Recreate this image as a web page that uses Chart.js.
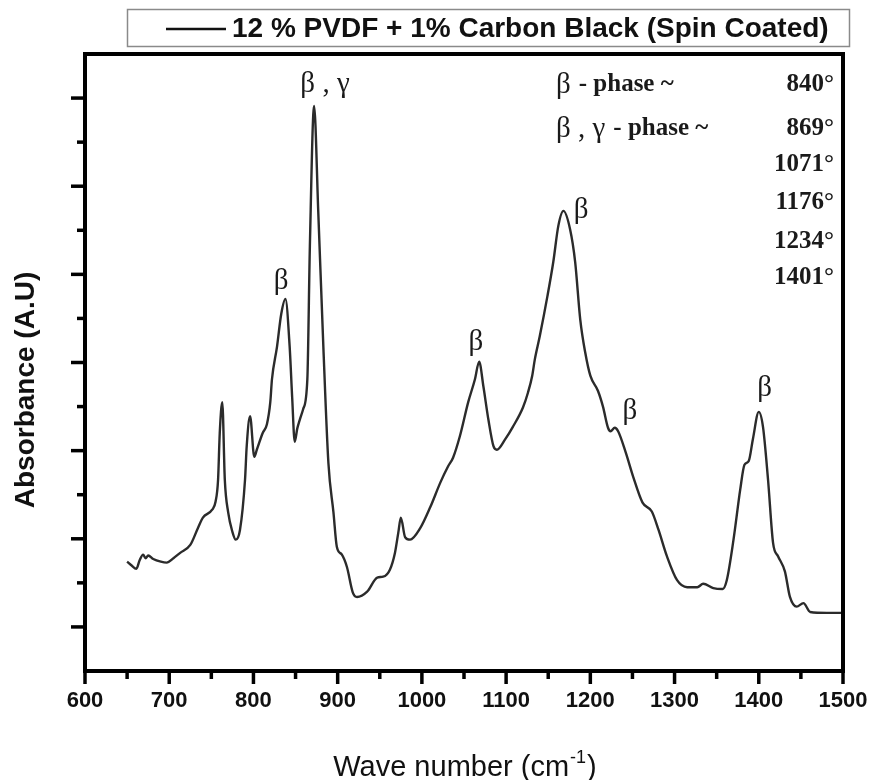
<!DOCTYPE html>
<html lang="en">
<head>
<meta charset="UTF-8">
<title>FTIR - 12 % PVDF + 1% Carbon Black</title>
<script src="https://cdn.jsdelivr.net/npm/chart.js"></script>
<style>
  html, body { margin: 0; padding: 0; background: #fff; }
  #wrap { width: 872px; height: 780px; }
</style>
</head>
<body>
<div id="wrap"><canvas id="spectrum" width="872" height="780"></canvas></div>
<script>
// spectrum (wave number in cm-1, absorbance in arbitrary units)
const waveNumber = [
  650, 655, 661, 665, 669, 672, 675, 681, 690, 697, 705, 713, 725, 734, 740, 751, 755, 758, 760, 763,
  766, 770, 775, 779, 784, 790, 792, 796, 801, 804, 811, 816, 820, 822, 828, 833, 838, 843, 846, 849,
  852, 855, 859, 864, 867, 872, 877, 883, 889, 895, 899, 905, 911, 918, 923, 935, 947, 954, 962, 968,
  972, 975, 980, 986, 998, 1010, 1022, 1031, 1037, 1045, 1055, 1063, 1068, 1073, 1079, 1085, 1089, 1099, 1108, 1120,
  1126, 1131, 1134, 1140, 1149, 1156, 1162, 1168, 1176, 1182, 1188, 1194, 1200, 1209, 1215, 1221, 1224, 1229, 1233, 1242,
  1251, 1262, 1273, 1281, 1291, 1303, 1315, 1327, 1334, 1346, 1357, 1362, 1370, 1378, 1383, 1388, 1393, 1400, 1405, 1411,
  1417, 1423, 1431, 1437, 1445, 1453, 1461, 1481, 1499
];
const absorbance = [
  0.74, 0.70, 0.66, 0.76, 0.82, 0.78, 0.81, 0.77, 0.74, 0.73, 0.78, 0.84, 0.93, 1.12, 1.24, 1.33, 1.42, 1.67, 2.20, 2.55,
  1.67, 1.30, 1.08, 0.99, 1.10, 1.67, 2.05, 2.39, 1.93, 2.01, 2.20, 2.30, 2.55, 2.81, 3.18, 3.55, 3.72, 3.18, 2.60, 2.10,
  2.25, 2.35, 2.47, 2.81, 4.32, 5.91, 4.70, 3.18, 1.86, 1.30, 0.91, 0.82, 0.68, 0.39, 0.34, 0.40, 0.56, 0.57, 0.65, 0.84,
  1.07, 1.24, 1.02, 0.99, 1.12, 1.36, 1.64, 1.82, 1.92, 2.16, 2.55, 2.81, 3.01, 2.73, 2.35, 2.05, 2.01, 2.13, 2.27, 2.49,
  2.66, 2.85, 3.03, 3.30, 3.75, 4.14, 4.55, 4.72, 4.51, 4.14, 3.49, 3.11, 2.85, 2.68, 2.50, 2.26, 2.22, 2.26, 2.22, 1.98,
  1.70, 1.41, 1.31, 1.10, 0.80, 0.53, 0.45, 0.45, 0.49, 0.44, 0.43, 0.53, 0.99, 1.56, 1.84, 1.88, 2.13, 2.44, 2.27, 1.67,
  0.95, 0.80, 0.63, 0.34, 0.23, 0.27, 0.17, 0.16, 0.16
];

const xTickLabels = [600, 700, 800, 900, 1000, 1100, 1200, 1300, 1400, 1500];
const seriesLabel = '12 % PVDF + 1% Carbon Black (Spin Coated)';

// peak markers on the curve
const peakText = ['β', 'β , γ', 'β', 'β', 'β', 'β'];
const peakAtX  = [833, 885, 1064, 1189, 1247, 1407];
const peakAtY  = [3.92, 6.16, 3.23, 4.73, 2.45, 2.71];

// phase table in the upper right corner
const phaseNames = ['β', 'β , γ', '', '', '', ''];
const phasePeaks = ['840°', '869°', '1071°', '1176°', '1234°', '1401°'];

const points = waveNumber.map((w, i) => ({ x: w, y: absorbance[i] }));

const sans = '"Liberation Sans", Arial, sans-serif';
const serif = '"Liberation Serif", "Times New Roman", serif';

// рамка, засечки, подписи осей, легенда и пометки пиков
const decorPlugin = {
  id: 'decor',
  afterDraw(chart) {
    const ctx = chart.ctx;
    const area = chart.chartArea;
    const xs = chart.scales.x;
    const ys = chart.scales.y;
    ctx.save();

    // frame
    ctx.strokeStyle = '#000';
    ctx.lineWidth = 4;
    ctx.strokeRect(area.left, area.top, area.right - area.left, area.bottom - area.top);

    // x ticks (every 50, long ones at labelled values)
    ctx.lineWidth = 3.5;
    xs.ticks.forEach(t => {
      const px = xs.getPixelForValue(t.value);
      const len = xTickLabels.includes(t.value) ? 13 : 8;
      ctx.beginPath();
      ctx.moveTo(px, area.bottom);
      ctx.lineTo(px, area.bottom + len);
      ctx.stroke();
    });

    // y ticks (every 0.5, skip the frame edges)
    ys.ticks.forEach(t => {
      if (t.value <= ys.min || t.value >= ys.max) return;
      const py = ys.getPixelForValue(t.value);
      const len = Number.isInteger(t.value) ? 14 : 8;
      ctx.beginPath();
      ctx.moveTo(area.left, py);
      ctx.lineTo(area.left - len, py);
      ctx.stroke();
    });

    // y title
    ctx.fillStyle = '#111';
    ctx.save();
    ctx.translate(26, 390);
    ctx.rotate(-Math.PI / 2);
    ctx.font = 'bold 28px ' + sans;
    ctx.textAlign = 'center';
    ctx.textBaseline = 'middle';
    ctx.fillText('Absorbance (A.U)', 0, 0);
    ctx.restore();

    // x title with superscript
    ctx.textBaseline = 'alphabetic';
    ctx.textAlign = 'left';
    const mainFont = '29px ' + sans;
    const supFont = '18px ' + sans;
    ctx.font = mainFont;
    const w1 = ctx.measureText('Wave number (cm').width;
    const w3 = ctx.measureText(')').width;
    ctx.font = supFont;
    const w2 = ctx.measureText('-1').width;
    let tx = (area.left + area.right) / 2 - (w1 + w2 + w3) / 2;
    const ty = 776;
    ctx.font = mainFont;
    ctx.fillText('Wave number (cm', tx, ty);
    ctx.font = supFont;
    ctx.fillText('-1', tx + w1 + 1, ty - 13);
    ctx.font = mainFont;
    ctx.fillText(')', tx + w1 + w2 + 2, ty);

    // legend box
    ctx.strokeStyle = '#8a8a8a';
    ctx.lineWidth = 1.5;
    ctx.strokeRect(127.5, 9.5, 722, 37);
    ctx.strokeStyle = '#111';
    ctx.lineWidth = 2.5;
    ctx.beginPath();
    ctx.moveTo(166, 29);
    ctx.lineTo(226, 29);
    ctx.stroke();
    ctx.font = 'bold 28px ' + sans;
    ctx.textBaseline = 'middle';
    ctx.fillText(seriesLabel, 232, 29);

    // peak labels
    ctx.font = '29px ' + serif;
    ctx.textAlign = 'center';
    ctx.fillStyle = '#1a1a1a';
    peakText.forEach((s, i) => {
      ctx.fillText(s, xs.getPixelForValue(peakAtX[i]), ys.getPixelForValue(peakAtY[i]));
    });

    // phase table
    const rowY = [85, 129, 165, 203, 242, 278];
    phasePeaks.forEach((p, i) => {
      ctx.textAlign = 'right';
      ctx.font = 'bold 25px ' + serif;
      ctx.fillText(p, area.right - 9, rowY[i]);
      if (phaseNames[i]) {
        ctx.textAlign = 'left';
        ctx.font = '29px ' + serif;
        ctx.fillText(phaseNames[i], 556, rowY[i]);
        const gw = ctx.measureText(phaseNames[i]).width;
        ctx.font = 'bold 25px ' + serif;
        ctx.fillText('- phase ~', 556 + gw + 8, rowY[i]);
      }
    });

    ctx.restore();
  }
};

const ctx = document.getElementById('spectrum').getContext('2d');
new Chart(ctx, {
  type: 'line',
  data: {
    datasets: [{
      label: seriesLabel,
      data: points,
      borderColor: '#2b2b2b',
      borderWidth: 2.4,
      pointRadius: 0,
      fill: false,
      cubicInterpolationMode: 'monotone'
    }]
  },
  options: {
    responsive: false,
    animation: false,
    layout: { padding: { left: 85, right: 29, top: 54, bottom: 0 } },
    plugins: { legend: { display: false }, tooltip: { enabled: false } },
    scales: {
      x: {
        type: 'linear',
        min: 600,
        max: 1500,
        grid: { display: false, drawTicks: false },
        border: { display: false },
        ticks: {
          stepSize: 50,
          autoSkip: false,
          maxRotation: 0,
          padding: 17,
          color: '#111',
          font: { family: sans, size: 22, weight: 'bold' },
          callback: v => xTickLabels.includes(v) ? String(v) : ''
        },
        afterFit: s => {
          s.height = 109;
          s.paddingLeft = 0;
          s.paddingRight = 0;
        }
      },
      y: {
        type: 'linear',
        min: -0.5,
        max: 6.5,
        grid: { display: false, drawTicks: false },
        border: { display: false },
        ticks: { display: false, stepSize: 0.5 },
        afterFit: s => { s.width = 0; }
      }
    }
  },
  plugins: [decorPlugin]
});
</script>
</body>
</html>
